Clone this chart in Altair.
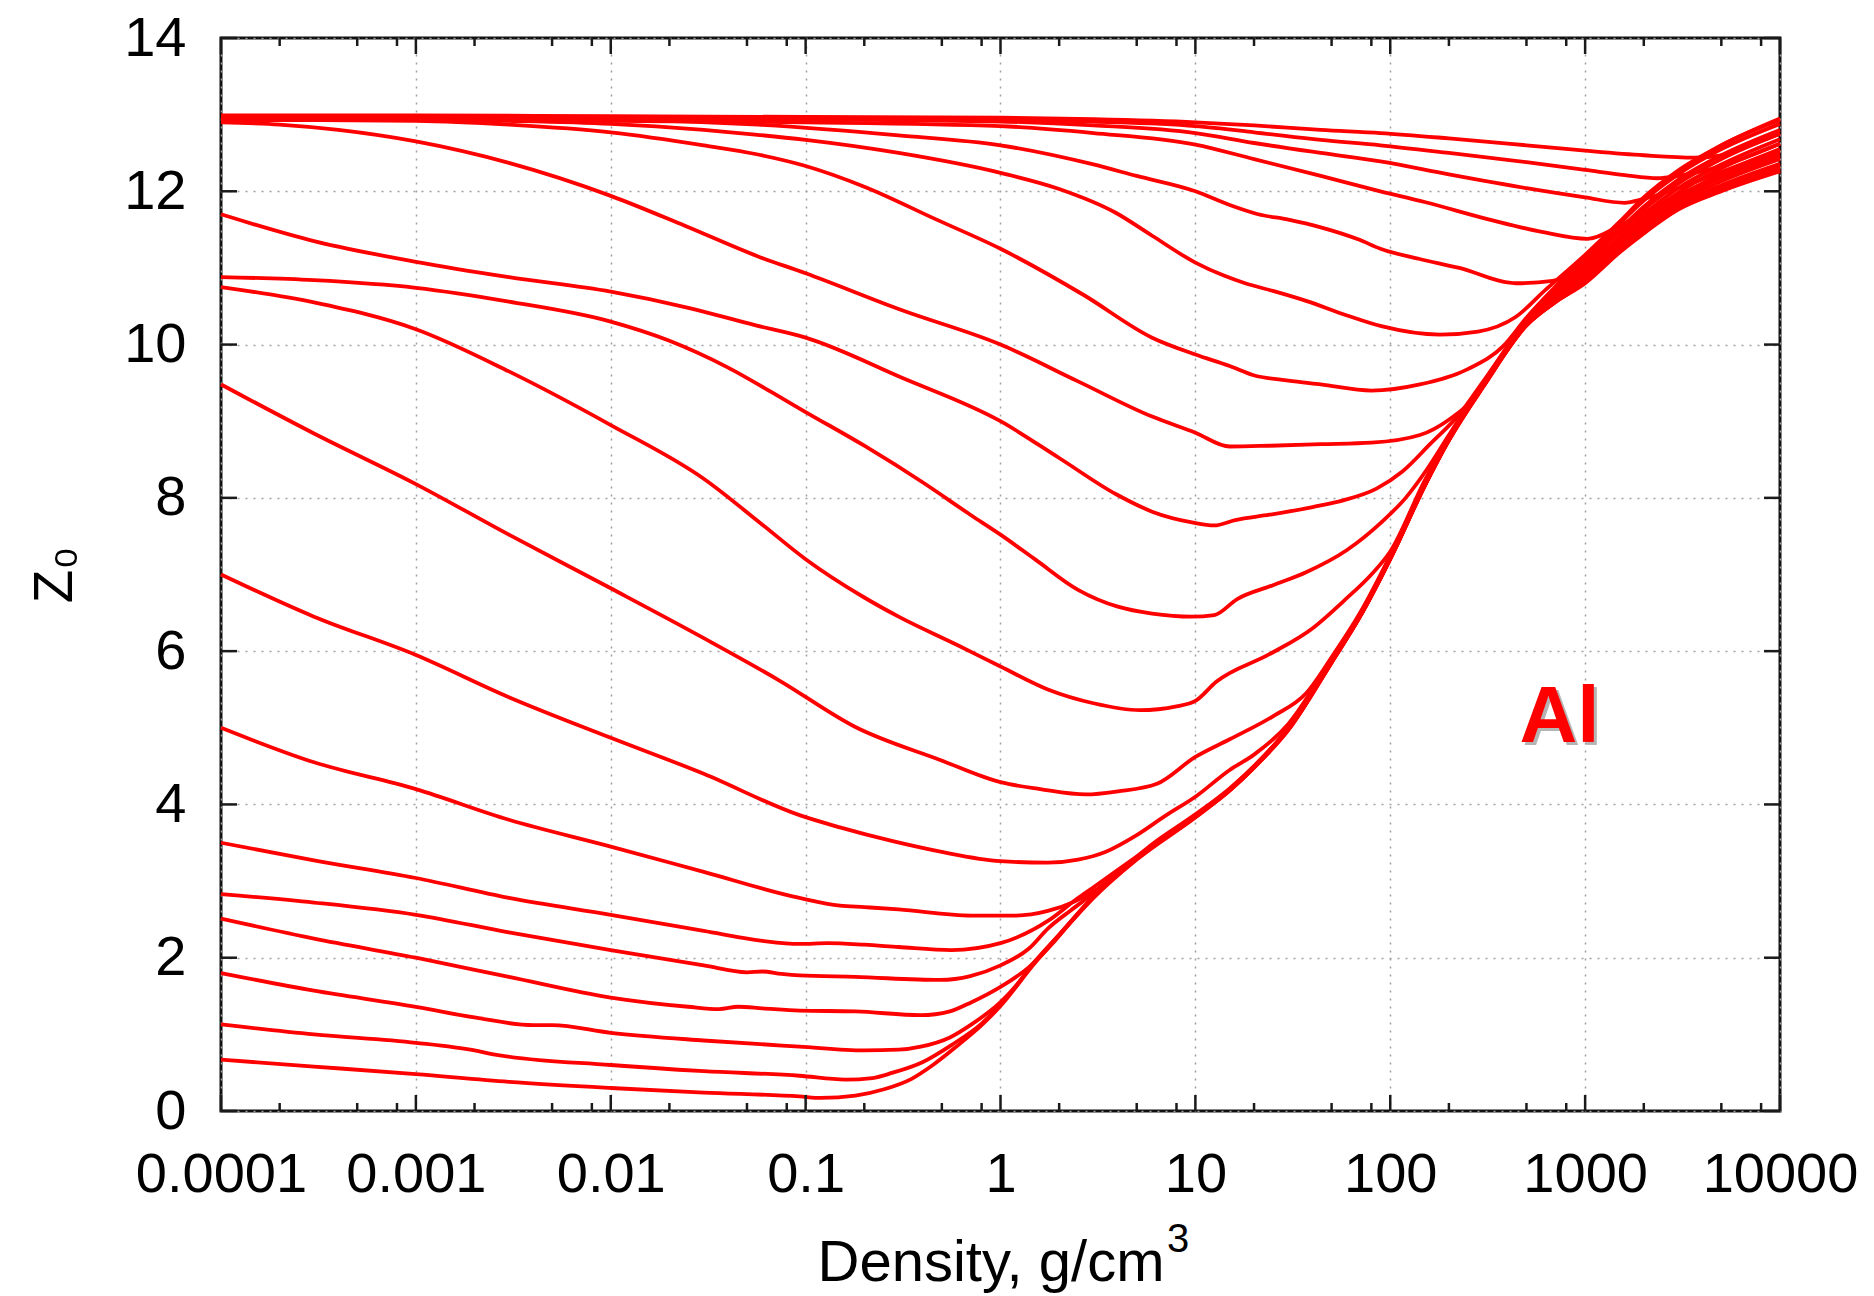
import altair as alt
import pandas as pd

# Mean ionization Z0 of aluminium versus density, one isotherm per list of (density g/cm3, Z0)
curve_a = [(1e-4, 12.99), (1e-3, 12.99), (0.01, 12.98), (0.1, 12.97), (1, 12.96), (3, 12.94), (10, 12.9),
           (20, 12.86), (44, 12.8), (89, 12.76), (200, 12.69), (500, 12.6), (1000, 12.53), (2000, 12.47),
           (3650, 12.44), (5000, 12.47), (7000, 12.6), (10000, 12.75)]
curve_b = [(1e-4, 12.97), (1e-3, 12.97), (0.01, 12.97), (0.1, 12.96), (1, 12.94), (3, 12.91), (10, 12.85),
           (20, 12.77), (44, 12.67), (89, 12.6), (200, 12.5), (500, 12.38), (1000, 12.28), (1600, 12.21),
           (2360, 12.17), (3000, 12.2), (5000, 12.33), (10000, 12.62)]
curve_c = [(1e-4, 12.95), (1e-3, 12.95), (0.01, 12.95), (0.1, 12.94), (1, 12.91), (3, 12.86), (10, 12.76),
           (20, 12.63), (44, 12.5), (89, 12.39), (200, 12.22), (500, 12.04), (1000, 11.92), (1590, 11.85),
           (2000, 11.9), (3000, 12.04), (5000, 12.25), (10000, 12.55)]
curve_d = [(1e-4, 12.93), (1e-3, 12.93), (0.01, 12.92), (0.1, 12.9), (1, 12.85), (3, 12.76), (10, 12.61),
           (20, 12.42), (44, 12.2), (89, 12.0), (150, 11.86), (335, 11.62), (600, 11.47), (1030, 11.38),
           (1500, 11.55), (2000, 11.72), (3000, 11.95), (5000, 12.18), (10000, 12.45)]
curve_e = [(1e-4, 12.96), (1e-3, 12.96), (0.01, 12.94), (0.057, 12.87), (0.3, 12.73), (1, 12.6), (3, 12.35),
           (5, 12.2), (10, 12.0), (15, 11.82), (21, 11.7), (30, 11.63), (44, 11.53), (69, 11.37), (89, 11.25),
           (140, 11.12), (226, 11.0), (442, 10.8), (680, 10.83), (850, 10.95), (1000, 11.1), (1500, 11.57),
           (2000, 11.9), (3000, 12.25), (5000, 12.6), (10000, 12.93)]
curve_f = [(1e-4, 12.95), (1e-3, 12.94), (3e-3, 12.92), (0.01, 12.88), (0.03, 12.8), (0.055, 12.74),
           (0.1, 12.67), (0.3, 12.5), (1, 12.24), (2, 12.03), (3.9, 11.72), (6, 11.42), (10, 11.07),
           (14, 10.9), (18, 10.8), (25, 10.7), (37, 10.57), (60, 10.38), (90, 10.24), (180, 10.13),
           (282, 10.17), (440, 10.36), (630, 10.72), (800, 10.95), (1000, 11.17), (1500, 11.6), (2000, 11.92),
           (3000, 12.27), (5000, 12.6), (10000, 12.95)]
curve_g = [(1e-4, 12.94), (1e-3, 12.92), (3e-3, 12.87), (0.01, 12.77), (0.03, 12.6), (0.057, 12.48),
           (0.1, 12.33), (0.2, 12.06), (0.47, 11.63), (1, 11.25), (2.66, 10.65), (6, 10.09), (10, 9.87),
           (15, 9.72), (19.9, 9.6), (30, 9.53), (44, 9.48), (80, 9.4), (142, 9.48), (250, 9.68), (380, 9.98),
           (500, 10.35), (700, 10.75), (1000, 11.15), (1500, 11.58), (2000, 11.88), (3000, 12.22),
           (5000, 12.55), (10000, 12.88)]
curve_h = [(1e-4, 12.9), (2e-4, 12.87), (4e-4, 12.8), (1e-3, 12.65), (3e-3, 12.37), (0.01, 11.94),
           (0.024, 11.55), (0.057, 11.15), (0.1, 10.93), (0.31, 10.45), (1, 10.0), (2.5, 9.52), (6, 9.06),
           (10, 8.85), (15, 8.67), (24, 8.68), (44, 8.7), (80, 8.72), (142, 8.82), (200, 9.02), (280, 9.35),
           (350, 9.75), (500, 10.32), (700, 10.7), (1000, 11.08), (1500, 11.5), (2000, 11.8), (3000, 12.15),
           (5000, 12.47), (10000, 12.8)]
curve_i = [(1e-4, 11.7), (3e-4, 11.35), (1e-3, 11.08), (3e-3, 10.88), (0.01, 10.69), (0.025, 10.48),
           (0.0555, 10.25), (0.1, 10.09), (0.31, 9.57), (1, 9.0), (2, 8.52), (3.9, 8.05), (6, 7.82),
           (9.6, 7.68), (12.5, 7.64), (16, 7.71), (24, 7.78), (40, 7.88), (58, 7.97), (85, 8.12), (115, 8.34),
           (160, 8.7), (228, 9.1), (300, 9.52), (500, 10.3), (700, 10.66), (1000, 11.03), (1500, 11.46),
           (2000, 11.76), (3000, 12.1), (5000, 12.42), (10000, 12.75)]
curve_j = [(1e-4, 10.88), (3e-4, 10.84), (1e-3, 10.74), (3e-3, 10.56), (0.01, 10.3), (0.02, 10.05),
           (0.04, 9.7), (0.07, 9.35), (0.1, 9.12), (0.2, 8.68), (0.4, 8.2), (0.7, 7.78), (1, 7.52), (1.5, 7.2),
           (2.5, 6.8), (4, 6.58), (6, 6.49), (9.6, 6.45), (12.5, 6.47), (16.4, 6.68), (25, 6.86),
           (37, 7.03), (60, 7.32), (90, 7.68), (120, 8.0), (155, 8.38), (200, 8.82), (300, 9.5), (500, 10.28),
           (700, 10.63), (1000, 10.98), (1500, 11.4), (2000, 11.7), (3000, 12.04), (5000, 12.35),
           (10000, 12.68)]
curve_k = [(1e-4, 10.75), (3e-4, 10.55), (1e-3, 10.2), (3e-3, 9.65), (0.01, 8.95), (0.03, 8.25),
           (0.06, 7.65), (0.1, 7.2), (0.2, 6.7), (0.3, 6.45), (0.6, 6.08), (1, 5.8), (1.75, 5.5), (3, 5.32),
           (5.2, 5.23), (8, 5.28), (10, 5.35), (12.8, 5.6), (24, 5.96), (40, 6.3), (58, 6.66), (80, 7.0),
           (100, 7.3), (150, 8.22), (200, 8.8), (300, 9.48), (500, 10.27), (700, 10.6), (1000, 10.94),
           (1500, 11.36), (2000, 11.65), (3000, 11.98), (5000, 12.3), (10000, 12.62)]
curve_l = [(1e-4, 9.48), (3e-4, 8.84), (1e-3, 8.18), (3e-3, 7.52), (0.01, 6.82), (0.03, 6.17), (0.073, 5.62),
           (0.18, 5.01), (0.49, 4.58), (1, 4.29), (1.6, 4.2), (2.75, 4.13), (4, 4.17), (6.35, 4.27),
           (10, 4.62), (15, 4.85), (25, 5.15), (37, 5.45), (50, 5.92), (70, 6.5), (100, 7.25), (150, 8.2),
           (200, 8.78), (300, 9.47), (500, 10.27), (700, 10.58), (1000, 10.9), (1500, 11.32), (2000, 11.6),
           (3000, 11.93), (5000, 12.22), (10000, 12.52)]
curve_m = [(1e-4, 7.0), (3e-4, 6.45), (1e-3, 5.95), (3e-3, 5.4), (0.01, 4.87), (0.03, 4.4), (0.093, 3.86),
           (0.15, 3.7), (0.28, 3.52), (0.5, 3.38), (1, 3.26), (1.75, 3.24), (2.5, 3.28), (3.45, 3.38),
           (5, 3.6), (7, 3.85), (10, 4.1), (15, 4.45), (20, 4.65), (30, 5.05), (50, 5.9), (70, 6.48),
           (100, 7.23), (150, 8.18), (200, 8.77), (300, 9.46), (500, 10.26), (700, 10.57), (1000, 10.88),
           (1500, 11.3), (2000, 11.57), (3000, 11.9), (5000, 12.18), (10000, 12.48)]
curve_n = [(1e-4, 5.0), (3e-4, 4.55), (1e-3, 4.2), (3e-3, 3.8), (0.01, 3.45), (0.03, 3.12), (0.093, 2.78),
           (0.15, 2.68), (0.2, 2.66), (0.3, 2.63), (0.71, 2.55), (1.2, 2.55), (1.75, 2.61), (3.15, 2.9),
           (4.5, 3.22), (6, 3.48), (10, 3.87), (15, 4.21), (20, 4.5), (30, 5.0), (50, 5.87), (70, 6.47),
           (100, 7.22), (150, 8.17), (200, 8.76), (300, 9.46), (500, 10.26), (700, 10.56), (1000, 10.86),
           (1500, 11.27), (2000, 11.53), (3000, 11.86), (5000, 12.13), (10000, 12.42)]
curve_o = [(1e-4, 3.5), (3e-4, 3.27), (1e-3, 3.04), (3e-3, 2.78), (0.01, 2.56), (0.03, 2.35), (0.06, 2.22),
           (0.093, 2.18), (0.13, 2.19), (0.2, 2.17), (0.3, 2.14), (0.56, 2.1), (1, 2.19), (1.75, 2.48),
           (2.5, 2.78), (3, 2.92), (5, 3.32), (10, 3.86), (15, 4.2), (20, 4.5), (30, 4.99), (50, 5.86),
           (70, 6.46), (100, 7.21), (150, 8.16), (200, 8.76), (300, 9.46), (500, 10.26), (700, 10.56),
           (1000, 10.85), (1500, 11.25), (2000, 11.5), (3000, 11.82), (5000, 12.08), (10000, 12.36)]
curve_p = [(1e-4, 2.83), (3e-4, 2.72), (1e-3, 2.56), (3e-3, 2.33), (0.01, 2.1), (0.03, 1.9), (0.05, 1.81),
           (0.06, 1.82), (0.075, 1.79), (0.093, 1.77), (0.18, 1.75), (0.49, 1.71), (0.7, 1.76), (1, 1.9),
           (1.4, 2.12), (1.75, 2.38), (2.3, 2.62), (3, 2.84), (5, 3.31), (10, 3.85), (15, 4.19), (20, 4.49),
           (30, 4.99), (50, 5.86), (70, 6.46), (100, 7.21), (150, 8.16), (200, 8.76), (300, 9.46),
           (500, 10.26), (700, 10.56), (1000, 10.84), (1500, 11.24), (2000, 11.49), (3000, 11.8),
           (5000, 12.06), (10000, 12.33)]
curve_q = [(1e-4, 2.51), (3e-4, 2.25), (1e-3, 2.0), (3e-3, 1.75), (0.01, 1.48), (0.025, 1.36), (0.036, 1.33),
           (0.045, 1.36), (0.06, 1.34), (0.093, 1.31), (0.18, 1.3), (0.39, 1.25), (0.55, 1.3), (0.71, 1.42),
           (1, 1.62), (1.39, 1.87), (1.9, 2.22), (2.5, 2.58), (3, 2.8), (5, 3.3), (10, 3.84), (15, 4.19),
           (20, 4.49), (30, 4.98), (50, 5.86), (70, 6.46), (100, 7.21), (150, 8.16), (200, 8.76), (300, 9.46),
           (500, 10.26), (700, 10.56), (1000, 10.83), (1500, 11.23), (2000, 11.48), (3000, 11.79),
           (5000, 12.04), (10000, 12.3)]
curve_r = [(1e-4, 1.8), (3e-4, 1.57), (1e-3, 1.36), (2e-3, 1.22), (4e-3, 1.12), (5e-3, 1.12), (0.01, 1.02),
           (0.03, 0.92), (0.093, 0.84), (0.2, 0.79), (0.3, 0.8), (0.39, 0.84), (0.55, 0.96), (0.71, 1.13),
           (1, 1.42), (1.2, 1.63), (1.5, 1.95), (2, 2.3), (3, 2.79), (5, 3.29), (10, 3.84), (15, 4.19),
           (20, 4.49), (30, 4.98), (50, 5.86), (70, 6.46), (100, 7.21), (150, 8.16), (200, 8.76), (300, 9.46),
           (500, 10.26), (700, 10.56), (1000, 10.82), (1500, 11.22), (2000, 11.47), (3000, 11.78),
           (5000, 12.02), (10000, 12.28)]
curve_s = [(1e-4, 1.13), (3e-4, 1.0), (1e-3, 0.89), (2e-3, 0.79), (2.5e-3, 0.74), (0.01, 0.6), (0.03, 0.52),
           (0.093, 0.46), (0.16, 0.41), (0.22, 0.43), (0.28, 0.5), (0.4, 0.64), (0.56, 0.86), (0.8, 1.14),
           (1, 1.39), (1.5, 1.94), (2, 2.3), (3, 2.79), (5, 3.29), (10, 3.84), (15, 4.18), (20, 4.48),
           (30, 4.98), (50, 5.85), (70, 6.45), (100, 7.2), (150, 8.15), (200, 8.75), (300, 9.45), (500, 10.25),
           (700, 10.55), (1000, 10.81), (1500, 11.21), (2000, 11.46), (3000, 11.77), (5000, 12.01),
           (10000, 12.27)]
curve_t = [(1e-4, 0.67), (3e-4, 0.58), (1e-3, 0.48), (3e-3, 0.38), (0.01, 0.3), (0.03, 0.24), (0.093, 0.19),
           (0.12, 0.17), (0.18, 0.2), (0.25, 0.28), (0.35, 0.42), (0.45, 0.6), (0.6, 0.85), (0.8, 1.12),
           (1, 1.37), (1.5, 1.93), (2, 2.29), (3, 2.78), (5, 3.28), (10, 3.83), (15, 4.18), (20, 4.48),
           (30, 4.97), (50, 5.85), (70, 6.45), (100, 7.2), (150, 8.15), (200, 8.75), (300, 9.45), (500, 10.25),
           (700, 10.55), (1000, 10.8), (1500, 11.2), (2000, 11.45), (3000, 11.76), (5000, 12.0),
           (10000, 12.26)]

# Axis ticks
x_major = [0.0001, 0.001, 0.01, 0.1, 1, 10, 100, 1000, 10000]
x_minor_mantissas = [2, 5, 8]
y_major = [0, 2, 4, 6, 8, 10, 12, 14]

# Axis titles and element annotation
x_title = "Density, g/cm"
x_title_exponent = ["3"]
y_title = "Z\u2080"
label_text = ["Al"]
label_density = [738]
label_z = [4.82]

curves = [curve_a, curve_b, curve_c, curve_d, curve_e, curve_f, curve_g, curve_h, curve_i, curve_j,
          curve_k, curve_l, curve_m, curve_n, curve_o, curve_p, curve_q, curve_r, curve_s, curve_t]

rows = []
for idx, pts in enumerate(curves):
    for dens, z in pts:
        rows.append({"curve": idx, "density": dens, "z": z})
df = pd.DataFrame(rows)

W, H = 1559, 1073
FONT = "Liberation Sans"
TICK_COLOR = "#1a1a1a"

xscale = alt.Scale(type="log", domain=[1e-4, 1e4], nice=False)
yscale = alt.Scale(domain=[0, 14], nice=False)

label_expr = "datum.value < 1 ? format(datum.value, '.4~f') : format(datum.value, 'd')"

x_axis = alt.Axis(values=x_major, labelExpr=label_expr, title=x_title,
                  titleX=769.5, titleY=169, titleAlign="center", titleBaseline="alphabetic",
                  titleFontSize=58, labelPadding=36)
y_axis = alt.Axis(values=y_major, title=y_title, titleX=-167, titleY=H / 2,
                  titleAngle=270, titleAlign="center", titleBaseline="middle",
                  titleFontSize=55, labelPadding=35)

# every layer shares the same x / y definitions so the axes merge cleanly
X = alt.X("density:Q", scale=xscale, axis=x_axis)
Y = alt.Y("z:Q", scale=yscale, axis=y_axis)

lines = alt.Chart(df).mark_line(color="#ff0000", strokeWidth=3.8, interpolate="monotone").encode(
    x=X, y=Y, detail="curve:N",
)

minor_vals = [m * x_major[k] for k in range(len(x_major) - 1) for m in x_minor_mantissas]
xmaj_df = pd.DataFrame({"density": x_major})
xmin_df = pd.DataFrame({"density": minor_vals})
ymaj_df = pd.DataFrame({"z": y_major})


def x_ticks(data, length):
    base = alt.Chart(data).mark_rule(color=TICK_COLOR, strokeWidth=2.5)
    bottom = base.encode(x=X, y=alt.value(H), y2=alt.value(H - length))
    top = base.encode(x=X, y=alt.value(0), y2=alt.value(length))
    return [bottom, top]


def y_ticks(data, length):
    base = alt.Chart(data).mark_rule(color=TICK_COLOR, strokeWidth=2.5)
    left = base.encode(y=Y, x=alt.value(0), x2=alt.value(length))
    right = base.encode(y=Y, x=alt.value(W), x2=alt.value(W - length))
    return [left, right]


# superscript of the unit, set just after the x-axis title
exp_df = pd.DataFrame({"text": x_title_exponent})
exponent = alt.Chart(exp_df).mark_text(
    font=FONT, fontSize=40, color="#000000", align="left", baseline="alphabetic"
).encode(x=alt.value(946), y=alt.value(1214), text="text:N")

label_df = pd.DataFrame({"density": label_density, "z": label_z, "text": label_text})
label_base = alt.Chart(label_df).encode(x=X, y=Y, text="text:N")
label_shadow = label_base.mark_text(font=FONT, fontSize=80, fontWeight="bold", color="#b4b4b4",
                                    align="center", baseline="alphabetic", dx=3, dy=3)
label_main = label_base.mark_text(font=FONT, fontSize=80, fontWeight="bold", color="#ff0000",
                                  align="center", baseline="alphabetic")

layers = ([lines] + x_ticks(xmaj_df, 16) + x_ticks(xmin_df, 8) + y_ticks(ymaj_df, 16)
          + [label_shadow, label_main, exponent])

chart = alt.layer(*layers).properties(
    width=W,
    height=H,
    autosize=alt.AutoSizeParams(type="none"),
    padding={"left": 221, "top": 38, "right": 94, "bottom": 185},
).configure_view(
    stroke="#111111", strokeWidth=3
).configure_axis(
    domain=False,
    ticks=False,
    tickSize=0,
    grid=True,
    gridColor="#a0a0a0",
    gridDash=[2, 6],
    gridWidth=1.5,
    labelFont=FONT,
    labelFontSize=56,
    labelColor="#000000",
    labelOverlap=False,
    labelFlush=False,
    titleFont=FONT,
    titleFontWeight="normal",
    titleColor="#000000",
)

chart.save("out.html", embed_options={"renderer": "svg", "actions": False})
